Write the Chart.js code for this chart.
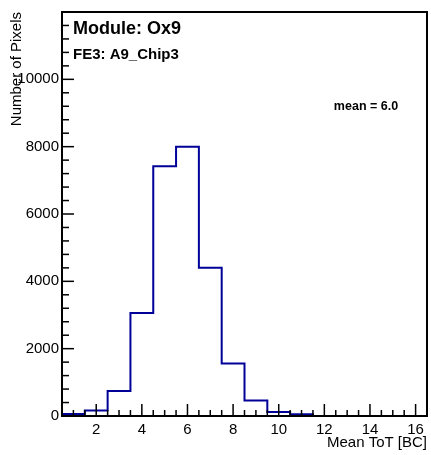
<!DOCTYPE html>
<html>
<head>
<meta charset="utf-8">
<script src="https://cdn.jsdelivr.net/npm/chart.js@4.4.1/dist/chart.umd.min.js"></script>
<style>
  html, body { margin: 0; padding: 0; background: #fff; }
  #wrap { width: 431px; height: 455px; }
</style>
</head>
<body>
<div id="wrap"><canvas id="c" width="431" height="455"></canvas></div>
<script>
// ---- data ----
const binCenters = [1, 2, 3, 4, 5, 6, 7, 8, 9, 10, 11, 12, 13, 14, 15, 16];
const pixelCounts = [60, 160, 740, 3060, 7420, 8000, 4400, 1560, 460, 120, 50, 0, 0, 0, 0, 0];
const xTickLabels = [2, 4, 6, 8, 10, 12, 14, 16];
const yTickLabels = [0, 2000, 4000, 6000, 8000, 10000];
const titleModule = "Module: Ox9";
const titleChip = "FE3: A9_Chip3";
const meanText = "mean = 6.0";
const xTitle = "Mean ToT [BC]";
const yTitle = "Number of Pixels";

const FONT = "'Liberation Sans', Arial, Helvetica, sans-serif";
const LINE_COLOR = '#000099';

// step outline points: left edge of each bin, plus right edge of last bin
const binWidth = 1;
const pts = binCenters.map((c, i) => ({ x: c - binWidth / 2, y: pixelCounts[i] }));
pts.push({ x: binCenters[binCenters.length - 1] + binWidth / 2, y: pixelCounts[pixelCounts.length - 1] });

const decor = {
  id: 'decor',
  afterDatasetsDraw(chart) {
    const { ctx, chartArea: a, scales: { x, y } } = chart;
    ctx.save();
    ctx.strokeStyle = '#000';
    ctx.lineWidth = 1.5;
    // x ticks (inside)
    for (let v = x.min; v <= x.max + 1e-9; v += 0.5) {
      const px = x.getPixelForValue(v);
      const major = Math.abs(v / 2 - Math.round(v / 2)) < 1e-9;
      const len = major ? 12 : 6;
      ctx.beginPath();
      ctx.moveTo(px, a.bottom);
      ctx.lineTo(px, a.bottom - len);
      ctx.stroke();
    }
    // y ticks (inside)
    for (let v = y.min; v <= y.max + 1e-9; v += 400) {
      const py = y.getPixelForValue(v);
      const major = v % 2000 === 0;
      const len = major ? 12 : 7;
      ctx.beginPath();
      ctx.moveTo(a.left, py);
      ctx.lineTo(a.left + len, py);
      ctx.stroke();
    }
    // frame
    ctx.lineWidth = 2;
    ctx.strokeRect(a.left, a.top, a.right - a.left, a.bottom - a.top);
    // annotations
    ctx.fillStyle = '#000';
    ctx.textBaseline = 'alphabetic';
    ctx.textAlign = 'left';
    ctx.font = 'bold 18px ' + FONT;
    ctx.fillText(titleModule, 73, 34);
    ctx.font = 'bold 15px ' + FONT;
    ctx.fillText(titleChip, 73, 59);
    ctx.textAlign = 'center';
    ctx.font = 'bold 12.5px ' + FONT;
    ctx.fillText(meanText, 366, 110);
    ctx.restore();
  }
};

new Chart(document.getElementById('c'), {
  type: 'line',
  data: {
    datasets: [{
      data: pts,
      stepped: true,
      borderColor: LINE_COLOR,
      borderWidth: 2,
      pointRadius: 0,
      fill: false,
      clip: 4
    }]
  },
  options: {
    responsive: false,
    animation: false,
    devicePixelRatio: 1,
    layout: { padding: { top: 8, right: 4, left: 0, bottom: 0 } },
    plugins: { legend: { display: false }, tooltip: { enabled: false } },
    scales: {
      x: {
        type: 'linear',
        min: 0.5,
        max: 16.5,
        afterBuildTicks: s => { s.ticks = xTickLabels.map(v => ({ value: v })); },
        afterFit: s => { s.height = 39; },
        grid: { display: false, drawTicks: false },
        border: { display: false },
        ticks: {
          color: '#000', padding: 5, maxRotation: 0, autoSkip: false,
          font: { family: FONT, size: 15 },
          callback: v => String(v)
        },
        title: {
          display: true, text: xTitle, align: 'end', color: '#000',
          font: { family: FONT, size: 15 }, padding: { top: 0, bottom: 3 }
        }
      },
      y: {
        type: 'linear',
        min: 0,
        max: 12000,
        afterBuildTicks: s => { s.ticks = yTickLabels.map(v => ({ value: v })); },
        afterFit: s => { s.width = 62; },
        grid: { display: false, drawTicks: false },
        border: { display: false },
        ticks: {
          color: '#000', padding: 3, autoSkip: false,
          font: { family: FONT, size: 15 },
          callback: v => String(v)
        },
        title: {
          display: true, text: yTitle, align: 'end', color: '#000',
          font: { family: FONT, size: 15 }, padding: { top: 8, bottom: 0 }
        }
      }
    }
  },
  plugins: [decor]
});
</script>
</body>
</html>
